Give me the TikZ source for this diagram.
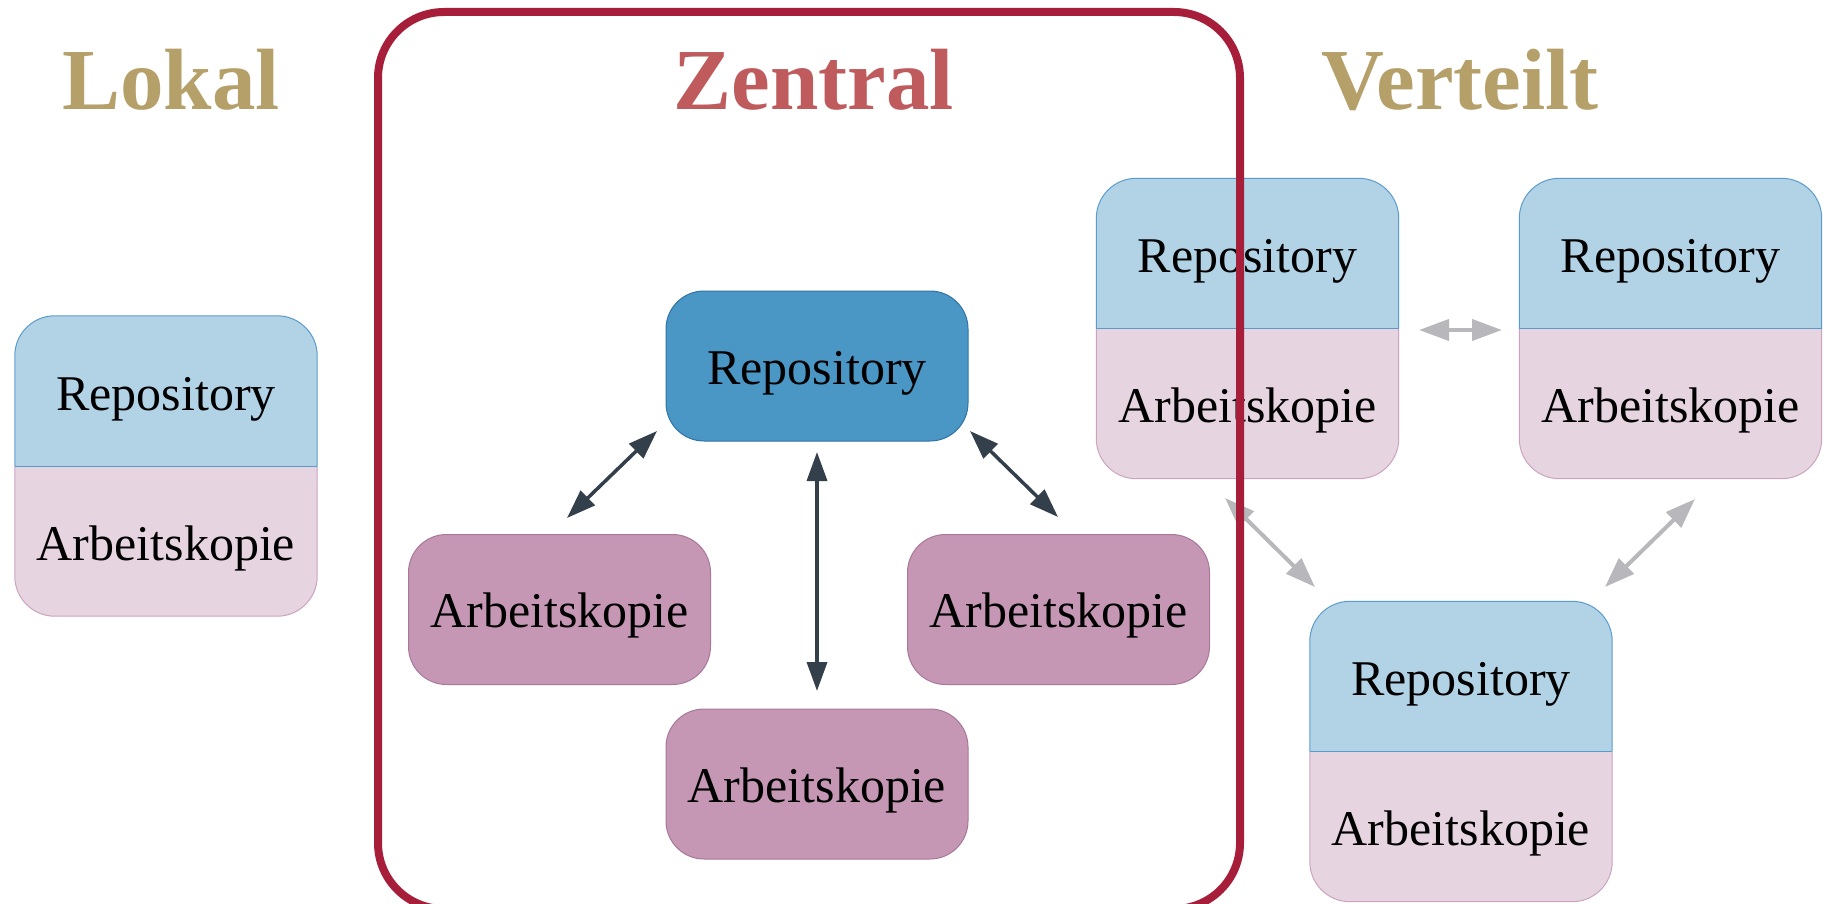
\documentclass[tikz,border=0pt]{standalone}
\usepackage{fontspec}
\setmainfont{Liberation Serif}
\usetikzlibrary{arrows.meta}
\definecolor{goldc}{HTML}{B5A06A}
\definecolor{zentc}{HTML}{BF5B5C}
\definecolor{framec}{HTML}{A61E3A}
\definecolor{repodark}{HTML}{4A96C4}
\definecolor{repodarkline}{HTML}{2F73A8}
\definecolor{wcdark}{HTML}{C597B5}
\definecolor{wcdarkline}{HTML}{A87898}
\definecolor{repolight}{HTML}{B2D3E6}
\definecolor{repolightline}{HTML}{5A9BCB}
\definecolor{wclight}{HTML}{E6D4E0}
\definecolor{wclightline}{HTML}{CBA3C0}
\definecolor{darkarrow}{HTML}{333F4A}
\definecolor{grayarrow}{HTML}{B8B8BC}
\begin{document}
\begin{tikzpicture}[x=1pt,y=-1pt,
  title/.style={font=\fontsize{87}{90}\selectfont\bfseries, anchor=base, inner sep=0pt},
  lbl/.style={font=\fontsize{50}{55}\selectfont, anchor=base, inner sep=0pt},
  onebox/.style={rectangle, rounded corners=38pt, minimum width=302pt, minimum height=150pt, inner sep=0pt, line width=1pt, font=\fontsize{50}{55}\selectfont, text height=36pt, text depth=0pt},
  repobox/.style={onebox, fill=repodark, draw=repodarkline},
  wcbox/.style={onebox, fill=wcdark, draw=wcdarkline},
  splitbox/.style={rectangle, rounded corners=40pt, minimum width=302pt, minimum height=300pt, inner sep=0pt, fill=wclight,
    path picture={\fill[repolight, sharp corners] (path picture bounding box.north west) rectangle (path picture bounding box.east);}},
  topedge/.style={draw=repolightline, line width=1pt, rounded corners=40pt},
  botedge/.style={draw=wclightline, line width=1pt, rounded corners=40pt},
  frame/.style={rectangle, rounded corners=66pt, draw=framec, line width=8pt, minimum width=862pt, minimum height=897pt, inner sep=0pt},
  darr/.style={draw=darkarrow, line width=3.5pt, {Triangle[length=29pt,width=20pt]}-{Triangle[length=29pt,width=20pt]}},
  garr/.style={draw=grayarrow, line width=4pt, {Triangle[length=30pt,width=21pt]}-{Triangle[length=30pt,width=21pt]}},
]
\useasboundingbox (0,0) rectangle (1828,904);

% titles
\node[title, text=goldc] (tlokal) at (171,110) {Lokal};
\node[title, text=zentc] (tzentral) at (814,110) {Zentral};
\node[title, text=goldc] (tverteilt) at (1460,110) {Verteilt};

% split boxes
\node[splitbox] (lok) at (166,466) {};
\node[splitbox] (va) at (1247.5,328.5) {};
\node[splitbox] (vb) at (1670.5,328.5) {};
\node[splitbox] (vc) at (1461,751.5) {};
\foreach \b in {lok,va,vb,vc}{
  \draw[topedge] (\b.west) |- (\b.north) -| (\b.east);
  \draw[botedge] (\b.west) |- (\b.south) -| (\b.east);
  \draw[draw=repolightline, line width=1pt] (\b.west) -- (\b.east);
}
\foreach \b in {lok,va,vb,vc}{
  \node[lbl] (\b repo) at ([yshift=56pt]\b.center) {Repository};
  \node[lbl] (\b wc) at ([yshift=-94pt]\b.center) {Arbeitskopie};
}

% central boxes
\node[repobox] (zrepo) at (817,366) {Repository};
\node[wcbox] (zleft) at (559.5,609.5) {Arbeitskopie};
\node[wcbox] (zright) at (1058.5,609.5) {Arbeitskopie};
\node[wcbox] (zbottom) at (817,784) {Arbeitskopie};

% arrow end points
\coordinate (l1) at (657,431);
\coordinate (l2) at (567,518);
\coordinate (m1) at (817,452);
\coordinate (m2) at (817,691);
\coordinate (r1) at (970,431);
\coordinate (r2) at (1058,517);
\coordinate (h1) at (1419,330);
\coordinate (h2) at (1502,330);
\coordinate (ac1) at (1225,498);
\coordinate (ac2) at (1315,587);
\coordinate (bc1) at (1695,499);
\coordinate (bc2) at (1605,587);

\draw[darr] (l1) -- (l2);
\draw[darr] (m1) -- (m2);
\draw[darr] (r1) -- (r2);
\draw[garr] (h1) -- (h2);
\draw[garr] (ac1) -- (ac2);
\draw[garr] (bc1) -- (bc2);

% frame around Zentral
\node[frame] (zframe) at (809,460.5) {};
\end{tikzpicture}
\end{document}
